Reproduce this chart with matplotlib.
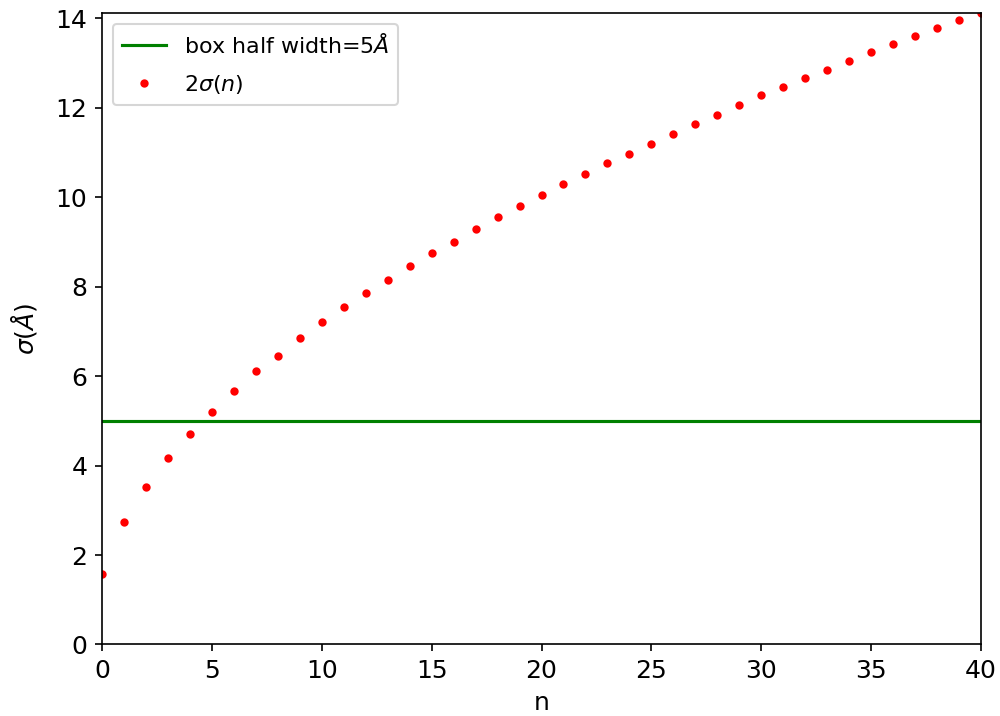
import matplotlib
matplotlib.use("Agg")
import matplotlib.pyplot as plt

# sample index and twice the spread at each step
n_values = list(range(41))
two_sigma = [1.58, 2.73, 3.52, 4.16, 4.70, 5.20, 5.67, 6.11, 6.46, 6.85,
             7.21, 7.54, 7.86, 8.15, 8.47, 8.76, 9.01, 9.30, 9.55, 9.80,
             10.05, 10.30, 10.52, 10.77, 10.98, 11.20, 11.42, 11.63, 11.84, 12.06,
             12.28, 12.46, 12.67, 12.85, 13.04, 13.25, 13.44, 13.61, 13.78, 13.96,
             14.13]
box_half_width = 5

fig = plt.figure(figsize=(1000 / 150, 716 / 150), dpi=150)
ax = fig.add_axes([0.102, 0.0999, 0.879, 0.8824])

ax.axhline(box_half_width, color="g", label=r"box half width=5$\AA$")
ax.plot(n_values, two_sigma, "r.", label=r"$2\sigma(n)$")

ax.set_xlim(0, 40)
ax.set_ylim(0, max(two_sigma))
ax.set_xlabel("n", fontsize=12)
ax.set_ylabel(r"$\sigma(\AA)$", fontsize=12, labelpad=8)
ax.tick_params(labelsize=12)
ax.legend(loc="upper left", fontsize=10.6, labelspacing=0.75)

fig.savefig("out.png", dpi=150)
